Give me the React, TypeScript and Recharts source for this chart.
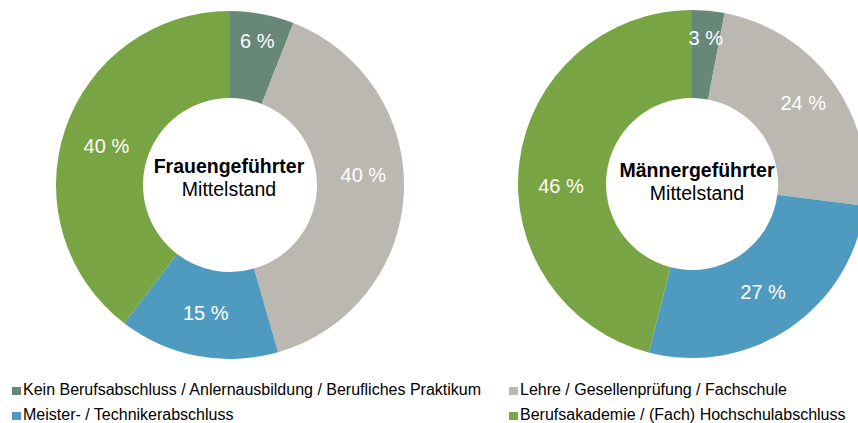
import { Cell, Legend, Pie, PieChart } from "recharts";

const categories = [
  "Kein Berufsabschluss / Anlernausbildung / Berufliches Praktikum",
  "Lehre / Gesellenprüfung / Fachschule",
  "Meister- / Technikerabschluss",
  "Berufsakademie / (Fach) Hochschulabschluss"
];
const colors = ["#678779", "#bbb8b1", "#4f9bc0", "#79a443"];

const frauenValues = [6, 40, 15, 40];
const maennerValues = [3, 24, 27, 46];

const frauenRows = categories.map((name, i) => ({ name, value: frauenValues[i] }));
const maennerRows = categories.map((name, i) => ({ name, value: maennerValues[i] }));

// Excel nudged a few labels away from the ring middle
const frauenNudge = [[0, 0], [3, -16], [0, 0], [0, 3]];
const maennerNudge = [[0, 0], [6, -5], [-2, 0], [-2, 18]];

const FONT = "'Liberation Sans', Arial, sans-serif";
const RAD = Math.PI / 180;

function makeLabel(nudge: number[][]) {
  return (props: any) => {
    const { cx, cy, midAngle, innerRadius, outerRadius, value, percent, index } = props;
    const r = percent < 0.1 ? outerRadius - 27 : (innerRadius + outerRadius) / 2;
    const x = cx + r * Math.cos(-midAngle * RAD) + nudge[index][0];
    const y = cy + r * Math.sin(-midAngle * RAD) + nudge[index][1];
    return (
      <text
        x={x}
        y={y}
        fill="#ffffff"
        fontSize={20}
        fontFamily={FONT}
        textAnchor="middle"
        dominantBaseline="central"
      >
        {value} %
      </text>
    );
  };
}

function LegendBox() {
  return (
    <div
      style={{
        display: "grid",
        gridTemplateColumns: "497px 361px",
        rowGap: 7,
        fontFamily: FONT,
        fontSize: 16,
        lineHeight: "18px",
        color: "#000"
      }}
    >
      {[0, 1, 2, 3].map((i) => (
        <div key={i} style={{ display: "flex", alignItems: "center", paddingLeft: 12, whiteSpace: "nowrap" }}>
          <span
            style={{
              display: "inline-block",
              width: 9,
              height: 8,
              background: colors[i],
              marginRight: 2,
              marginTop: 2
            }}
          />
          {categories[i]}
        </div>
      ))}
    </div>
  );
}

function CenterText({ x, y, title }: { x: number; y: number; title: string }) {
  return (
    <g fontFamily={FONT} fontSize={19.5} textAnchor="middle" fill="#000">
      <text x={x} y={y} fontWeight="bold">
        {title}
      </text>
      <text x={x} y={y + 23}>
        Mittelstand
      </text>
    </g>
  );
}

export default function App() {
  return (
    <div style={{ position: "absolute", left: 0, top: 0, width: 858, height: 423, background: "#fff" }}>
      <PieChart width={858} height={423} margin={{ top: 0, right: 0, bottom: 0, left: 0 }}>
        <Pie
          data={frauenRows}
          dataKey="value"
          cx={230}
          cy={185}
          innerRadius={87}
          outerRadius={174}
          startAngle={90}
          endAngle={-270}
          stroke="none"
          label={makeLabel(frauenNudge)}
          labelLine={false}
          isAnimationActive={false}
        >
          {frauenRows.map((row, i) => (
            <Cell key={row.name} fill={colors[i]} />
          ))}
        </Pie>
        <Pie
          data={maennerRows}
          dataKey="value"
          cx={692}
          cy={184}
          innerRadius={86}
          outerRadius={174}
          startAngle={90}
          endAngle={-270}
          stroke="none"
          label={makeLabel(maennerNudge)}
          labelLine={false}
          isAnimationActive={false}
        >
          {maennerRows.map((row, i) => (
            <Cell key={row.name} fill={colors[i]} />
          ))}
        </Pie>
        <CenterText x={229} y={173} title="Frauengeführter" />
        <CenterText x={697} y={177} title="Männergeführter" />
        <Legend
          content={() => <LegendBox />}
          wrapperStyle={{ left: 0, top: 381, width: 858 }}
        />
      </PieChart>
    </div>
  );
}
